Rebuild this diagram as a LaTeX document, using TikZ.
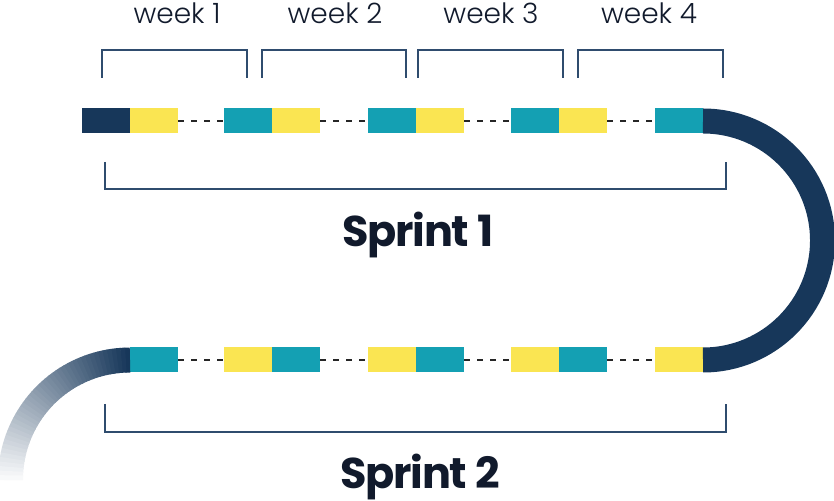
\documentclass[tikz,border=0pt]{standalone}
\usepackage{fontspec}
\setmainfont{Poppins}
\newfontfamily\weekfont{Poppins Light}
\newfontfamily\sprintfont[LetterSpace=-3]{Poppins Bold}
\usetikzlibrary{positioning}

\definecolor{navy}{HTML}{17375A}
\definecolor{lagoon}{HTML}{14A0B3}
\definecolor{sun}{HTML}{FAE552}
\definecolor{slate}{HTML}{2F4C6E}
\definecolor{ink}{HTML}{111A2C}

\begin{document}
\begin{tikzpicture}[x=1pt,y=1pt,
  blk/.style={minimum width=48pt, minimum height=25pt, inner sep=0pt, outer sep=0pt, anchor=west},
  gapline/.style={line width=1.4pt, black!85, dash pattern=on 6pt off 7pt},
  brk/.style={line width=2pt, slate},
  wk/.style={font=\weekfont\fontsize{28}{28}\selectfont, text=ink, anchor=base, inner sep=0pt},
  sprint/.style={font=\sprintfont\fontsize{43}{43}\selectfont, text=ink, anchor=base, inner sep=0pt}]
\useasboundingbox (0,0) rectangle (834,500);

% top row
\node[blk, fill=navy] (a0) at (82,379) {};
\node[blk, fill=sun, right=0pt of a0] (a1) {};
\node[blk, fill=lagoon, right=46pt of a1] (a2) {};
\node[blk, fill=sun, right=0pt of a2] (a3) {};
\node[blk, fill=lagoon, right=48pt of a3] (a4) {};
\node[blk, fill=sun, right=0pt of a4] (a5) {};
\node[blk, fill=lagoon, right=47pt of a5] (a6) {};
\node[blk, fill=sun, right=0pt of a6] (a7) {};
\node[blk, fill=lagoon, right=48pt of a7] (a8) {};

\draw[gapline] (a1.east) -- (a2.west);
\draw[gapline] (a3.east) -- (a4.west);
\draw[gapline] (a5.east) -- (a6.west);
\draw[gapline] (a7.east) -- (a8.west);

% bottom row
\node[blk, fill=lagoon] (b0) at (130,140) {};
\node[blk, fill=sun, right=46pt of b0] (b1) {};
\node[blk, fill=lagoon, right=0pt of b1] (b2) {};
\node[blk, fill=sun, right=48pt of b2] (b3) {};
\node[blk, fill=lagoon, right=0pt of b3] (b4) {};
\node[blk, fill=sun, right=47pt of b4] (b5) {};
\node[blk, fill=lagoon, right=0pt of b5] (b6) {};
\node[blk, fill=sun, right=48pt of b6] (b7) {};

\draw[gapline] (b0.east) -- (b1.west);
\draw[gapline] (b2.east) -- (b3.west);
\draw[gapline] (b4.east) -- (b5.west);
\draw[gapline] (b6.east) -- (b7.west);

% turn between the sprints
\draw[navy, line width=25pt] (a8.east) arc[start angle=90, end angle=-90, radius=119.5];

% fading tail
\coordinate (tail) at ([yshift=-119.5pt]b0.west);
\foreach \i in {0,...,44}{
  \pgfmathsetmacro\p{100-2.2*\i}
  \draw[navy!\p!white, line width=25pt] (tail) ++(90+2*\i:119.5) arc[start angle=90+2*\i, end angle=92.4+2*\i, radius=119.5];
}

% week brackets
\draw[brk] (102,422) |- (247,450) -- (247,422);
\draw[brk] (262,422) |- (406,450) -- (406,422);
\draw[brk] (418,422) |- (563,450) -- (563,422);
\draw[brk] (578,422) |- (723,450) -- (723,422);

\node[wk] (w1) at (177,476) {week 1};
\node[wk] (w2) at (335,476) {week 2};
\node[wk] (w3) at (491,476) {week 3};
\node[wk] (w4) at (649,476) {week 4};

% sprint brackets
\draw[brk] (105,338) |- (726,311) -- (726,338);
\draw[brk] (105,96) |- (726,68) -- (726,96);

\node[sprint] (s1) at (418,253) {Sprint 1};
\node[sprint] (s2) at (420,12) {Sprint 2};

\end{tikzpicture}
\end{document}
